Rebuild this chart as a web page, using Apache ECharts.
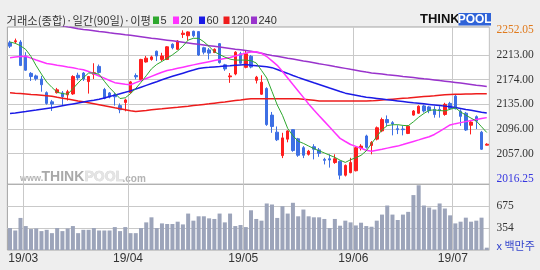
<!DOCTYPE html>
<html><head><meta charset="utf-8">
<script src="https://cdn.jsdelivr.net/npm/echarts@6/dist/echarts.min.js"></script>
<style>html,body{margin:0;padding:0;background:#eeeeee}#c{width:540px;height:270px}</style>
</head><body><div id="c"></div>
<script>
const dates = [
'19/02/26','19/02/27','19/02/28',
'19/03/04','19/03/05','19/03/06','19/03/07','19/03/08','19/03/11','19/03/12','19/03/13','19/03/14','19/03/15','19/03/18','19/03/19','19/03/20','19/03/21','19/03/22','19/03/25','19/03/26','19/03/27','19/03/28','19/03/29',
'19/04/01','19/04/02','19/04/03','19/04/04','19/04/05','19/04/08','19/04/09','19/04/10','19/04/11','19/04/12','19/04/15','19/04/16','19/04/17','19/04/18','19/04/19','19/04/22','19/04/23','19/04/24','19/04/25','19/04/26','19/04/29','19/04/30',
'19/05/02','19/05/03','19/05/07','19/05/08','19/05/09','19/05/10','19/05/13','19/05/14','19/05/15','19/05/16','19/05/17','19/05/20','19/05/21','19/05/22','19/05/23','19/05/24','19/05/27','19/05/28','19/05/29','19/05/30','19/05/31',
'19/06/03','19/06/04','19/06/05','19/06/07','19/06/10','19/06/11','19/06/12','19/06/13','19/06/14','19/06/17','19/06/18','19/06/19','19/06/20','19/06/21','19/06/24','19/06/25','19/06/26','19/06/27','19/06/28',
'19/07/01','19/07/02','19/07/03','19/07/04','19/07/05','19/07/08','19/07/09'];

const monthLabels = ['19/03','19/04','19/05','19/06','19/07'];

const openVals = [2232.5,2234,2233.5,2211.5,2184,2180,2175,2153.5,2139,2153.5,
2153,2150,2151.5,2181,2184.5,2171,2182.5,2195,2158.5,2153,
2150,2133,2138,2153.5,2180.5,2174,2202,2206,2219,2206,
2206,2230,2222,2245.5,2243.5,2250.5,2250,2224.5,2221,2217,
2231,2197.5,2178.5,2183,2215,2193.5,2211,2173,2151,2160,
2118,2091,2054,2080,2095,2080.5,2066.5,2056,2068,2063,
2048,2049,2043,2045,2023,2027,2030,2066,2085,2070,
2080,2093,2111,2106,2096.5,2096,2089,2118,2121,2132.5,
2131,2127,2127,2119,2136.5,2148,2124,2121,2102,2115.5,
2091,2070.5];
const closeVals = [2227,2235.5,2196.5,2189,2179,2175.5,2166,2136.5,2135.5,2158,
2147,2155,2179,2177,2175,2179,2185,2185.5,2144.5,2146.5,
2147,2126.5,2142,2170.5,2178.5,2206,2208,2210,2211.5,2211.5,
2226,2224.5,2235,2247.5,2249.5,2243.5,2213,2217.5,2216,2222,
2201,2191,2180,2217.5,2200,2215,2194,2178,2170,2103,
2100,2079,2082,2093,2062,2054.5,2054.5,2061,2064,2057.5,
2046.5,2047,2049,2023,2038.5,2043,2066.5,2069,2067,2074.5,
2098,2111,2106,2104,2095,2095,2100.5,2124.5,2132,2124.5,
2125,2119,2125,2135,2128.5,2128,2116,2094.5,2107,2108.5,
2064,2072];
const lowVals = [2224,2231,2195.5,2188,2172,2172.5,2155,2134.5,2124.5,2152,
2133,2141,2150,2173,2172,2152,2175,2184,2143,2144.5,
2133,2121,2124,2152,2174.5,2173,2201,2204,2203.5,2203.5,
2205,2222,2221,2240,2236,2241,2211.5,2214,2206,2216,
2199.5,2188,2169,2181,2198,2192,2192,2168,2150,2101,
2090,2077,2050,2075,2060,2052,2050,2054,2048,2052,
2040,2035,2041,2016.25,2021,2026,2029,2062,2065,2056,
2078,2091,2100.5,2086,2088,2086,2088,2117,2120,2122,
2121,2114,2114,2117,2126,2127,2101,2093,2087.5,2096,
2063,2070];
const highVals = [2235.5,2239,2236.5,2217.5,2186,2182,2180,2155.5,2142,2161,
2156,2158,2181,2185,2186,2180,2200,2198,2161,2154.5,
2153,2136.5,2144,2172,2184,2207,2211.5,2212,2220,2216.5,
2227,2231.5,2236.5,2252.05,2250.5,2251.5,2250.5,2226,2224,2223.5,
2232,2199,2184.5,2219,2218,2220,2213,2180,2181,2162,
2123,2100,2090,2094,2096,2082,2069,2063,2072,2066,
2050.5,2056,2056,2046,2040,2050.5,2068,2072,2087,2077,
2100,2114,2117.5,2108.5,2102,2101,2102,2126,2133.5,2134.5,
2132.5,2132,2132,2137.5,2139,2150.5,2127,2123,2108.5,2117.5,
2093,2073.5];

const volumes = [355,319,503,384,340,349,310,329,280,355,
310,349,384,280,329,329,355,319,319,319,
369,310,369,280,280,355,438,512,355,423,
414,414,448,408,567,463,527,527,497,488,
567,438,567,384,399,369,615,488,463,715,
700,503,675,567,725,527,626,527,512,512,
488,355,488,389,463,438,393,433,384,374,
463,552,685,552,473,552,592,838,982,685,
655,626,715,641,541,423,448,507,448,463,
507,67];

const ma5 = [2233.6,2231.5,2227.6,2221.8,2210.8,2196,2182.8,2170.3,2161.8,2154.1,
2152.1,2151,2159.7,2168.9,2177.2,2184.5,2184.5,2182.6,2171.6,2161.3,
2152.8,2144.2,2145.4,2151.9,2160.2,2169.8,2180.2,2191.1,2198.1,2202.9,
2207.9,2213.3,2219.4,2227.1,2236.6,2239.4,2239.4,2233.9,2226.6,2218.1,
2213.8,2209.7,2206.5,2205,2205,2205,2204,2200.4,2188.7,2176.7,
2155.5,2134.2,2117.7,2096.9,2085.4,2076.7,2073.3,2069.1,2065.1,2061.5,
2058.2,2054.6,2051.2,2046.7,2043.2,2047.4,2050.7,2054.4,2061.5,2073,
2084.1,2094.6,2101.4,2102.7,2102.9,2101.7,2101.2,2107.4,2114.6,2120.6,
2125.6,2126.3,2125.2,2124.6,2127.1,2129.6,2123.1,2117.9,2113.2,2108.7,
2099.6,2090.5];
const ma20 = [2208.8,2209.7,2210.6,2211,2208.1,2205.2,2202.4,2199.5,2198.3,2196.9,
2195.6,2194.2,2192.9,2191.1,2189.7,2186.9,2183.4,2179.9,2176.4,2172.8,
2169.3,2168,2166.7,2165.9,2169.3,2172.6,2175.9,2179.2,2182.5,2185.8,
2188.5,2190.2,2192,2193.8,2195.6,2197.4,2199.1,2200.8,2202.5,2204.2,
2205.8,2207.5,2209.1,2211.4,2213.7,2216,2217.9,2218.3,2215.8,2210.6,
2203.7,2196.7,2186.9,2176.7,2166.3,2156.2,2146,2135.7,2126,2117,
2108.1,2099.2,2090.2,2081.2,2076.3,2071.5,2068.6,2065.5,2062.5,2060.9,
2062.5,2064.1,2065.8,2067.4,2069,2071.4,2073.9,2076.4,2078.8,2081.3,
2083.7,2087.4,2092.4,2097.3,2102.4,2104.5,2106.1,2107.7,2109.3,2110.9,
2112.5,2114];
const ma60 = [2120.4,2121.5,2122.7,2123.8,2125,2126.1,2127.3,2128.5,2129.7,2131.2,
2132.7,2134.2,2135.7,2137.2,2138.7,2140.2,2141.6,2143.1,2145.1,2147.4,
2149.6,2151.8,2154,2156.3,2159.2,2162.1,2165,2167.9,2170.8,2173.8,
2176.7,2179.3,2181.8,2184.3,2186.8,2189.2,2191.7,2192.9,2193.5,2194.2,
2194.8,2195.5,2196.1,2196.8,2197.4,2197.9,2197,2196.2,2195.4,2194.5,
2193,2190,2186.9,2183.9,2180.7,2177.6,2174.8,2172,2169.2,2166.5,
2163.7,2160.9,2158.2,2155.4,2152.7,2151.1,2149.5,2147.8,2146.4,2145.4,
2144.4,2143.4,2142.4,2141.4,2140.4,2139.4,2138.4,2137.4,2136.7,2135.8,
2134.9,2134,2133.1,2132.2,2131.3,2130,2128.5,2127,2125.6,2124.1,
2122.6,2121.2];
const ma120 = [2153.3,2152.6,2152,2151.3,2150.6,2150,2149.3,2148.6,2147.7,2146.2,
2144.8,2143.3,2141.9,2140.4,2139,2137.5,2136,2134.4,2132.8,2131.2,
2129.6,2128.1,2126.5,2124.9,2123.7,2124.6,2125.4,2126.3,2127.1,2127.9,
2128.8,2129.6,2130.4,2131.3,2132.1,2133,2133.8,2134.8,2135.8,2136.9,
2137.9,2138.9,2140,2141,2142,2143.1,2143.9,2143.9,2144,2144,
2144,2144,2144,2144,2144,2144,2143.1,2142.2,2141.3,2140.4,
2140.3,2140.3,2140.3,2140.3,2140.3,2140.3,2140.3,2140.3,2140.3,2140.5,
2141.2,2141.9,2142.5,2143.2,2143.9,2144.6,2145.2,2145.9,2146.6,2147.3,
2148,2148.6,2149.3,2150,2150.7,2151,2151.1,2151.3,2151.4,2151.6,
2151.7,2151.9];
const ma240 = [2274.7,2273.2,2271.6,2270.1,2268.5,2267,2265.4,2263.9,2262.4,2260.8,
2259.3,2257.7,2256.2,2254.7,2253.4,2252.4,2251.4,2250.3,2249.3,2248.2,
2247.2,2246.2,2245.1,2244.1,2243,2241.9,2240.8,2239.7,2238.7,2237.6,
2236.5,2235.4,2234.3,2233.2,2232.1,2231,2229.9,2228.9,2227.8,2226.7,
2225.6,2224.5,2223.4,2222.3,2221.3,2220.2,2219,2217.3,2215.7,2214,
2212.4,2211,2209.5,2208,2206.6,2205.1,2203.6,2202.2,2200.7,2199.2,
2197.8,2196.3,2194.8,2193.4,2191.9,2190.4,2189,2187.5,2186,2184.7,
2183.8,2182.9,2181.9,2181,2180.1,2179.1,2178.2,2177.3,2176.4,2175.4,
2174.5,2173.6,2172.6,2171.7,2170.8,2169.7,2168.6,2167.5,2166.4,2165.3,
2164.3,2163.2];

const priceTicks = [2057, 2096, 2135, 2174, 2213];
const volTicks = [354, 675];
const maNames = ['5','20','60','120','240'];
const maColors = ['#2ea82e','#ff33ff','#1a1ae6','#ee1c1c','#9933cc'];
const maData = [ma5, ma20, ma60, ma120, ma240];

const hi = Math.max(...highVals), lo = Math.min(...lowVals);
const monthIdx = monthLabels.map(m => dates.findIndex(d => d.startsWith(m)));
const isMonth = (i) => monthIdx.indexOf(i) >= 0;
const gridCol = '#c9c9c9';

const chart = echarts.init(document.getElementById('c'));
const maSeries = maData.map((d, k) => ({
  type: 'line', name: maNames[k], xAxisIndex: 0, yAxisIndex: 0, data: d,
  symbol: 'none', clip: true, z: 10 - k,
  lineStyle: { color: maColors[k], width: k === 0 ? 1 : 1.5 }
})).reverse();

const legendGraphics = [];
const legX = [153, 173, 199, 223.5, 251];
maNames.forEach((n, k) => {
  legendGraphics.push({ type: 'rect', shape: { x: legX[k], y: 16.5, width: 6, height: 7.5 }, style: { fill: maColors[k] } });
  legendGraphics.push({ type: 'text', x: legX[k] + 7.5, y: 20.5, style: { text: n, font: '11px "Liberation Sans"', fill: '#333', verticalAlign: 'middle' } });
});

chart.setOption({
  animation: false,
  backgroundColor: '#eeeeee',
  grid: [
    { left: 7.4, right: 50.6, top: 27, height: 157.3, show: true, backgroundColor: '#fff', borderColor: '#a3a3a3', borderWidth: 1 },
    { left: 7.4, right: 50.6, top: 184.3, height: 65.7, show: true, backgroundColor: '#fff', borderColor: '#a3a3a3', borderWidth: 1 }
  ],
  xAxis: [
    { type: 'category', gridIndex: 0, data: dates, boundaryGap: true,
      axisLine: { show: false }, axisTick: { show: false }, axisLabel: { show: false },
      splitLine: { show: true, interval: (i) => isMonth(i), lineStyle: { color: gridCol, width: 1 } } },
    { type: 'category', gridIndex: 1, data: dates, boundaryGap: true,
      axisLine: { show: false }, axisTick: { show: false },
      axisLabel: { interval: (i) => isMonth(i), formatter: (v) => v.slice(0, 5), color: '#333',
        fontSize: 12, fontFamily: 'Liberation Sans', margin: 3, padding: [0, 5, 0, 0] },
      splitLine: { show: true, interval: (i) => isMonth(i), lineStyle: { color: gridCol, width: 1 } } }
  ],
  yAxis: [
    { type: 'value', gridIndex: 0, position: 'right', min: 2008.6, max: 2257.3, scale: true,
      axisLine: { show: false }, axisTick: { show: false, customValues: priceTicks },
      splitLine: { show: true, lineStyle: { color: gridCol, width: 1 } },
      axisLabel: { customValues: [lo].concat(priceTicks, [hi]), formatter: (v) => Number(v).toFixed(2),
        color: (v) => { const x = parseFloat(v); return x === hi ? '#e07a1c' : (x === lo ? '#3636e0' : '#333'); },
        fontSize: 11.5, fontFamily: 'Liberation Sans Narrow', margin: 7 } },
    { type: 'value', gridIndex: 1, position: 'right', min: 33, max: 996,
      axisLine: { show: false }, axisTick: { show: false, customValues: volTicks },
      splitLine: { show: true, lineStyle: { color: gridCol, width: 1 } },
      axisLabel: { customValues: volTicks, color: '#333', fontSize: 11.5, fontFamily: 'Liberation Sans Narrow', margin: 7 } }
  ],
  series: [
    { type: 'candlestick', xAxisIndex: 0, yAxisIndex: 0, barWidth: 3, z: 3,
      data: openVals.map((o, i) => [o, closeVals[i], lowVals[i], highVals[i]]),
      itemStyle: { color: '#ff1e1e', color0: '#3d6fe4', borderColor: '#ff1e1e', borderColor0: '#3d6fe4', borderWidth: 1 } },
    ...maSeries,
    { type: 'bar', xAxisIndex: 1, yAxisIndex: 1, data: volumes, barWidth: 4,
      itemStyle: { color: '#9ca4ba' } }
  ],
  graphic: [
    { type: 'text', x: 6.5, y: 20.5, style: { text: '거래소(종합)·일간(90일)·이평', font: '11.3px "Noto Sans CJK KR"', fill: '#333', verticalAlign: 'middle' } },
    ...legendGraphics,
    { type: 'text', x: 420, y: 19.5, style: { text: 'THINK', font: 'bold 13px "Liberation Sans"', fill: '#111', verticalAlign: 'middle' } },
    { type: 'rect', shape: { x: 458.5, y: 13, width: 32.5, height: 12.5 }, style: { fill: '#2f63d8' } },
    { type: 'text', x: 474.7, y: 19.5, style: { text: 'POOL', font: 'bold 12px "Liberation Sans"', fill: '#fff', align: 'center', verticalAlign: 'middle' } },
    { type: 'text', x: 20, y: 179, style: { text: 'www.', font: 'bold 9px "Liberation Sans"', fill: '#b3b3b3', verticalAlign: 'middle' } },
    { type: 'text', x: 41.5, y: 177, style: { text: 'THINK', font: 'bold 14px "Liberation Sans"', fill: '#a9a9a9', verticalAlign: 'middle' } },
    { type: 'text', x: 84.5, y: 177, style: { text: 'POOL', font: 'bold 14px "Liberation Sans"', fill: '#e4e4e4', stroke: '#cfcfcf', lineWidth: 0.6, verticalAlign: 'middle' } },
    { type: 'text', x: 122.5, y: 179, style: { text: '.com', font: 'bold 10px "Liberation Sans"', fill: '#b3b3b3', verticalAlign: 'middle' } },
    { type: 'text', x: 496.5, y: 246, style: { text: 'x 백만주', font: '11px "Noto Sans CJK KR"', fill: '#3344cc', verticalAlign: 'middle' } }
  ]
});
</script>
</body></html>
